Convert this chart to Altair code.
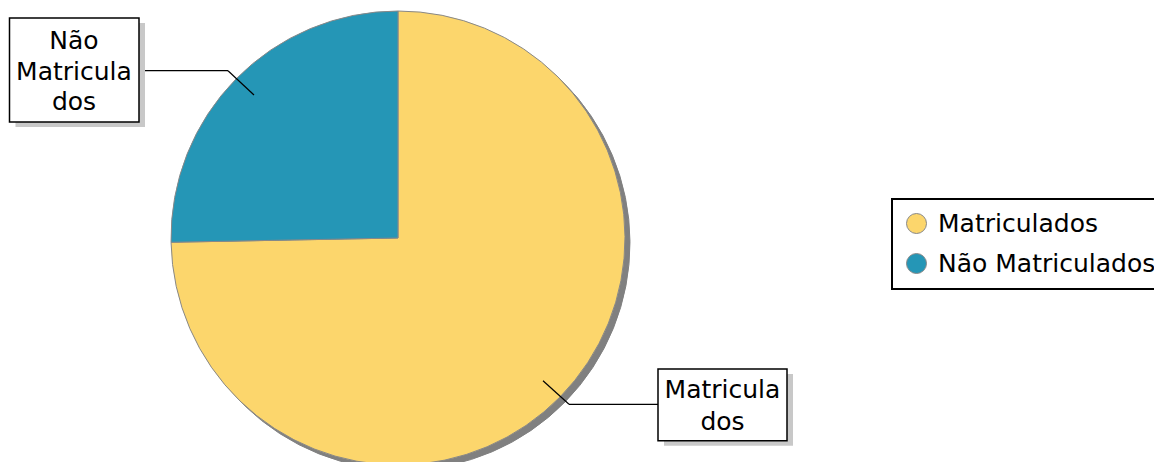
import altair as alt
import pandas as pd

categories = ["Matriculados", "Não Matriculados"]
values = [74.7, 25.3]
colors = ["#FCD66C", "#2596B6"]
box_labels = ["Matricula\ndos", "Não\nMatricula\ndos"]

df = pd.DataFrame({"categoria": categories, "valor": values, "rotulo": box_labels})

W, H = 1146, 454
CX, CY, R = 390, 230, 227
FONT = "DejaVu Sans"

shadow = alt.Chart(df).mark_arc(outerRadius=R, fill="#808080", stroke="#808080").encode(
    theta=alt.Theta("valor:Q", stack=True),
    x=alt.value(CX + 5), y=alt.value(CY + 5),
)

pie = alt.Chart(df).mark_arc(outerRadius=R, stroke="#888888", strokeWidth=1).encode(
    theta=alt.Theta("valor:Q", stack=True),
    color=alt.Color(
        "categoria:N",
        scale=alt.Scale(domain=categories, range=colors),
        sort=categories,
        legend=alt.Legend(
            title=None, orient="none", legendX=884, legendY=191,
            strokeColor="black", fillColor="white",
            padding=12, rowPadding=14, labelOffset=9,
            symbolType="circle", symbolSize=400,
            symbolStrokeColor="#888888", symbolStrokeWidth=1,
            labelFont=FONT, labelFontSize=25, labelColor="black",
            labelLimit=400,
        ),
    ),
    order=alt.Order("categoria:N", sort="ascending"),
    x=alt.value(CX), y=alt.value(CY),
)

one = alt.Data(values=[{"a": 1}])


def box(x1, y1, x2, y2):
    sh = alt.Chart(one).mark_rect(fill="#c8c8c8").encode(
        x=alt.value(x1 + 6), x2=alt.value(x2 + 6), y=alt.value(y1 + 5), y2=alt.value(y2 + 5))
    bx = alt.Chart(one).mark_rect(fill="white", stroke="black", strokeWidth=1.5).encode(
        x=alt.value(x1), x2=alt.value(x2), y=alt.value(y1), y2=alt.value(y2))
    return [sh, bx]


def seg(x1, y1, x2, y2):
    return alt.Chart(one).mark_rule(color="black", strokeWidth=1.2).encode(
        x=alt.value(x1), y=alt.value(y1), x2=alt.value(x2), y2=alt.value(y2))


layers = [shadow, pie]
layers += [seg(131, 62.7, 220, 62.7), seg(220, 62.7, 246, 87)]
layers += [seg(650, 396.3, 561, 396.3), seg(561, 396.3, 535, 372.7)]
layers += box(1.5, 10, 131, 114)
layers += box(650, 361, 779, 432.7)

txt1 = alt.Chart(df).transform_filter(alt.datum.categoria == "Não Matriculados").mark_text(
    font=FONT, fontSize=25, lineBreak="\n", lineHeight=30.5, align="center", baseline="alphabetic", color="black"
).encode(text="rotulo:N", x=alt.value(66), y=alt.value(41))
txt2 = alt.Chart(df).transform_filter(alt.datum.categoria == "Matriculados").mark_text(
    font=FONT, fontSize=25, lineBreak="\n", lineHeight=32, align="center", baseline="alphabetic", color="black"
).encode(text="rotulo:N", x=alt.value(714.5), y=alt.value(390))
layers += [txt1, txt2]

chart = alt.layer(*layers).properties(
    width=W, height=H, autosize=alt.AutoSizeParams(type="none"), padding=0
).configure_view(stroke=None).configure_legend(strokeWidth=2, cornerRadius=0)

chart.save("out.html", embed_options={"renderer": "svg", "actions": False})
